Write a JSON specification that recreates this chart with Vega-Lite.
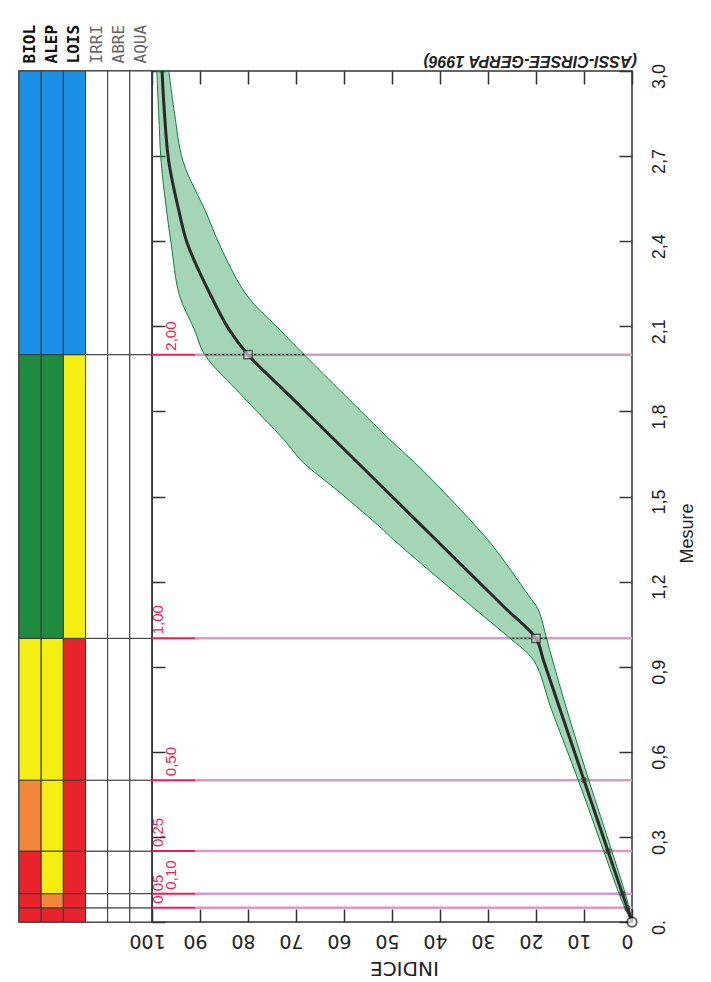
{
  "$schema": "https://vega.github.io/schema/vega-lite/v6.json",
  "background": "white",
  "padding": {"left": 17, "top": 23, "right": 5, "bottom": 2},
  "config": {"view": {"stroke": "#333", "strokeWidth": 1.5}, "font": "Liberation Sans"},
  "datasets": {
    "classes": [
      {"p": "BIOL", "de": 0, "a": 0.05, "c": "rouge"},
      {"p": "BIOL", "de": 0.05, "a": 0.1, "c": "rouge"},
      {"p": "BIOL", "de": 0.1, "a": 0.25, "c": "rouge"},
      {"p": "BIOL", "de": 0.25, "a": 0.5, "c": "orange"},
      {"p": "BIOL", "de": 0.5, "a": 1, "c": "jaune"},
      {"p": "BIOL", "de": 1, "a": 2, "c": "vert"},
      {"p": "BIOL", "de": 2, "a": 3, "c": "bleu"},
      {"p": "ALEP", "de": 0, "a": 0.05, "c": "rouge"},
      {"p": "ALEP", "de": 0.05, "a": 0.1, "c": "orange"},
      {"p": "ALEP", "de": 0.1, "a": 0.25, "c": "jaune"},
      {"p": "ALEP", "de": 0.25, "a": 0.5, "c": "jaune"},
      {"p": "ALEP", "de": 0.5, "a": 1, "c": "jaune"},
      {"p": "ALEP", "de": 1, "a": 2, "c": "vert"},
      {"p": "ALEP", "de": 2, "a": 3, "c": "bleu"},
      {"p": "LOIS", "de": 0, "a": 0.05, "c": "rouge"},
      {"p": "LOIS", "de": 0.05, "a": 0.1, "c": "rouge"},
      {"p": "LOIS", "de": 0.1, "a": 0.25, "c": "rouge"},
      {"p": "LOIS", "de": 0.25, "a": 0.5, "c": "rouge"},
      {"p": "LOIS", "de": 0.5, "a": 1, "c": "rouge"},
      {"p": "LOIS", "de": 1, "a": 2, "c": "jaune"},
      {"p": "LOIS", "de": 2, "a": 3, "c": "bleu"},
      {"p": "IRRI", "de": 0, "a": 0.05, "c": "blanc"},
      {"p": "IRRI", "de": 0.05, "a": 0.1, "c": "blanc"},
      {"p": "IRRI", "de": 0.1, "a": 0.25, "c": "blanc"},
      {"p": "IRRI", "de": 0.25, "a": 0.5, "c": "blanc"},
      {"p": "IRRI", "de": 0.5, "a": 1, "c": "blanc"},
      {"p": "IRRI", "de": 1, "a": 2, "c": "blanc"},
      {"p": "IRRI", "de": 2, "a": 3, "c": "blanc"},
      {"p": "ABRE", "de": 0, "a": 0.05, "c": "blanc"},
      {"p": "ABRE", "de": 0.05, "a": 0.1, "c": "blanc"},
      {"p": "ABRE", "de": 0.1, "a": 0.25, "c": "blanc"},
      {"p": "ABRE", "de": 0.25, "a": 0.5, "c": "blanc"},
      {"p": "ABRE", "de": 0.5, "a": 1, "c": "blanc"},
      {"p": "ABRE", "de": 1, "a": 2, "c": "blanc"},
      {"p": "ABRE", "de": 2, "a": 3, "c": "blanc"},
      {"p": "AQUA", "de": 0, "a": 0.05, "c": "blanc"},
      {"p": "AQUA", "de": 0.05, "a": 0.1, "c": "blanc"},
      {"p": "AQUA", "de": 0.1, "a": 0.25, "c": "blanc"},
      {"p": "AQUA", "de": 0.25, "a": 0.5, "c": "blanc"},
      {"p": "AQUA", "de": 0.5, "a": 1, "c": "blanc"},
      {"p": "AQUA", "de": 1, "a": 2, "c": "blanc"},
      {"p": "AQUA", "de": 2, "a": 3, "c": "blanc"}
    ],
    "courbe": [
      {"M": 0, "med": 0, "lo": 0, "hi": 0},
      {"M": 0.05, "med": 1, "lo": 0.6, "hi": 1.5},
      {"M": 0.1, "med": 2, "lo": 1.4, "hi": 2.7},
      {"M": 0.25, "med": 5, "lo": 4.2, "hi": 5.9},
      {"M": 0.5, "med": 10, "lo": 9, "hi": 11.2},
      {"M": 0.75, "med": 15, "lo": 13.6, "hi": 16.8},
      {"M": 0.92, "med": 18.4, "lo": 16.5, "hi": 20.4},
      {"M": 1, "med": 20, "lo": 17.8, "hi": 25.4},
      {"M": 1.1, "med": 26, "lo": 19.5, "hi": 32.5},
      {"M": 1.15, "med": 29, "lo": 21.5, "hi": 36},
      {"M": 1.33, "med": 39.8, "lo": 29.2, "hi": 48.5},
      {"M": 1.4, "med": 44, "lo": 32.8, "hi": 53},
      {"M": 1.53, "med": 51.8, "lo": 40, "hi": 62},
      {"M": 1.62, "med": 57.2, "lo": 45.3, "hi": 68.5},
      {"M": 1.7, "med": 62, "lo": 50.4, "hi": 72.5},
      {"M": 1.86, "med": 71.6, "lo": 60, "hi": 81.5},
      {"M": 2, "med": 80, "lo": 68.3, "hi": 89},
      {"M": 2.09, "med": 84, "lo": 73.5, "hi": 91.2},
      {"M": 2.21, "med": 87.8, "lo": 80.3, "hi": 94.3},
      {"M": 2.39, "med": 92.6, "lo": 86, "hi": 96},
      {"M": 2.5, "med": 94.3, "lo": 88.7, "hi": 96.9},
      {"M": 2.68, "med": 96.5, "lo": 93.5, "hi": 98.1},
      {"M": 2.85, "med": 97.4, "lo": 95.3, "hi": 98.6},
      {"M": 3, "med": 97.9, "lo": 96.5, "hi": 99}
    ],
    "seuils": [
      {"s": 0.05, "t": "0,05"},
      {"s": 0.1, "t": "0,10"},
      {"s": 0.25, "t": "0,25"},
      {"s": 0.5, "t": "0,50"},
      {"s": 1, "t": "1,00"},
      {"s": 2, "t": "2,00"}
    ]
  },
  "spacing": 0,
  "bounds": "flush",
  "resolve": {"scale": {"x": "independent", "y": "independent", "color": "independent"}},
  "hconcat": [
    {
      "width": 133,
      "height": 851,
      "data": {"name": "classes"},
      "mark": {"type": "rect", "stroke": "#3a3a3a", "strokeWidth": 1},
      "encoding": {
        "x": {
          "field": "p", "type": "nominal",
          "sort": ["BIOL", "ALEP", "LOIS", "IRRI", "ABRE", "AQUA"],
          "scale": {"paddingInner": 0, "paddingOuter": 0},
          "axis": {
            "orient": "top", "title": null, "ticks": false, "domain": false, "grid": false,
            "labelAngle": 270, "labelAlign": "left", "labelBaseline": "middle",
            "labelFont": "DejaVu Sans Mono", "labelFontSize": 16, "labelPadding": 8,
            "labelColor": {"condition": {"test": "indexof(['IRRI','ABRE','AQUA'], datum.value) >= 0", "value": "#666"}, "value": "#111"},
            "labelFontWeight": {"condition": {"test": "indexof(['IRRI','ABRE','AQUA'], datum.value) >= 0", "value": "normal"}, "value": "bold"}
          }
        },
        "y": {"field": "de", "type": "quantitative", "scale": {"domain": [0, 3], "nice": false, "zero": false}, "axis": null},
        "y2": {"field": "a"},
        "color": {
          "field": "c", "type": "nominal", "legend": null,
          "scale": {"domain": ["bleu", "vert", "jaune", "orange", "rouge", "blanc"], "range": ["#1c8fe6", "#1f8b3f", "#f4ee12", "#f2873a", "#e8232b", "#ffffff"]}
        }
      }
    },
    {
      "width": 480,
      "height": 851,
      "resolve": {"axis": {"x": "independent", "y": "independent"}},
      "layer": [
        {
          "data": {"name": "seuils"},
          "mark": {"type": "rule", "color": "#d99ac8", "strokeWidth": 2.5},
          "encoding": {
            "y": {"field": "s", "type": "quantitative", "axis": null},
            "x": {"datum": 91, "type": "quantitative", "axis": null},
            "x2": {"datum": 0}
          }
        },
        {
          "data": {"name": "seuils"},
          "mark": {"type": "rule", "color": "#eb1e5a", "strokeWidth": 2},
          "encoding": {
            "y": {"field": "s", "type": "quantitative", "axis": null},
            "x": {"datum": 100, "type": "quantitative", "axis": null},
            "x2": {"datum": 91}
          }
        },
        {
          "data": {"name": "courbe"},
          "mark": {"type": "area", "orient": "horizontal", "interpolate": "catmull-rom", "fill": "#35a15f", "fillOpacity": 0.45, "stroke": "#0e7f3a", "strokeWidth": 1},
          "encoding": {
            "y": {
              "field": "M", "type": "quantitative",
              "scale": {"domain": [0, 3], "nice": false, "zero": false},
              "axis": {
                "orient": "right", "values": [0, 0.3, 0.6, 0.9, 1.2, 1.5, 1.8, 2.1, 2.4, 2.7, 3.0],
                "labelExpr": "datum.value == 0 ? '0.' : replace(format(datum.value, '.1f'), '.', ',')",
                "domain": false, "grid": false, "tickSize": -13, "tickColor": "#333", "tickWidth": 1.5,
                "labelAngle": 270, "labelAlign": "center", "labelBaseline": "top",
                "labelPadding": 31, "labelOffset": 5, "labelFontSize": 18, "labelFont": "Liberation Sans",
                "labelColor": "#222", "labelFlush": false, "labelOverlap": false, "labelBound": false,
                "title": "Mesure", "titleAngle": 270, "titleFont": "Liberation Sans", "titleFontSize": 18,
                "titleFontWeight": "normal", "titleColor": "#222", "titleAlign": "center", "titleBaseline": "top",
                "titleX": 46, "titleY": 462
              }
            },
            "x": {
              "field": "lo", "type": "quantitative", "stack": null,
              "scale": {"domain": [0, 100], "reverse": true, "nice": false, "zero": false},
              "axis": {
                "orient": "bottom", "values": [0, 10, 20, 30, 40, 50, 60, 70, 80, 90, 100],
                "domain": false, "grid": false, "tickSize": -13, "tickColor": "#333", "tickWidth": 1.5,
                "labelAngle": 180, "labelAlign": "center", "labelBaseline": "middle",
                "labelPadding": 31, "labelOffset": -5, "labelFontSize": 19, "labelFont": "DejaVu Sans",
                "labelColor": "#222", "labelFlush": false, "labelOverlap": false, "labelBound": false,
                "title": "INDICE", "titleAngle": 180, "titleFont": "DejaVu Sans", "titleFontSize": 20,
                "titleFontWeight": "normal", "titleColor": "#222", "titleAlign": "center", "titleBaseline": "middle",
                "titleX": 252, "titleY": 45
              }
            },
            "x2": {"field": "hi"}
          }
        },
        {
          "data": {"name": "courbe"},
          "transform": [{"filter": "datum.M == 1 || datum.M == 2"}],
          "mark": {"type": "rule", "color": "#222", "strokeDash": [2, 2], "strokeWidth": 1.2},
          "encoding": {
            "y": {"field": "M", "type": "quantitative", "axis": null},
            "x": {"field": "lo", "type": "quantitative", "axis": null},
            "x2": {"field": "hi"}
          }
        },
        {
          "data": {"name": "courbe"},
          "mark": {"type": "line", "interpolate": "catmull-rom", "color": "#2a2a2a", "strokeWidth": 3},
          "encoding": {
            "y": {
              "field": "M", "type": "quantitative",
              "axis": {"orient": "left", "values": [0, 0.3, 0.6, 0.9, 1.2, 1.5, 1.8, 2.1, 2.4, 2.7, 3.0], "labels": false, "title": null, "domain": false, "grid": false, "tickSize": -13, "tickColor": "#333", "tickWidth": 1.5}
            },
            "x": {
              "field": "med", "type": "quantitative",
              "axis": {"orient": "top", "values": [0, 10, 20, 30, 40, 50, 60, 70, 80, 90, 100], "labels": false, "title": null, "domain": false, "grid": false, "tickSize": -13, "tickColor": "#333", "tickWidth": 1.5}
            },
            "order": {"field": "M", "type": "quantitative"}
          }
        },
        {
          "data": {"name": "courbe"},
          "transform": [{"filter": "datum.M == 0.05 || datum.M == 0.1 || datum.M == 0.25 || datum.M == 0.5"}],
          "mark": {"type": "point", "shape": "cross", "angle": 45, "size": 40, "filled": true, "color": "#333"},
          "encoding": {
            "y": {"field": "M", "type": "quantitative", "axis": null},
            "x": {"field": "med", "type": "quantitative", "axis": null}
          }
        },
        {
          "data": {"name": "courbe"},
          "transform": [{"filter": "datum.M == 1 || datum.M == 2"}],
          "mark": {"type": "point", "shape": "square", "size": 70, "filled": true, "fill": "#cfcfcf", "stroke": "#333", "strokeWidth": 1.5},
          "encoding": {
            "y": {"field": "M", "type": "quantitative", "axis": null},
            "x": {"field": "med", "type": "quantitative", "axis": null}
          }
        },
        {
          "data": {"name": "courbe"},
          "transform": [{"filter": "datum.M == 0"}],
          "mark": {"type": "point", "shape": "circle", "size": 90, "filled": true, "fill": "#ffffff", "stroke": "#222", "strokeWidth": 2},
          "encoding": {
            "y": {"field": "M", "type": "quantitative", "axis": null},
            "x": {"field": "med", "type": "quantitative", "axis": null}
          }
        },
        {
          "data": {"name": "seuils"},
          "transform": [{"filter": "datum.s == 2 || datum.s == 0.5 || datum.s == 0.1"}],
          "mark": {"type": "text", "angle": 270, "align": "left", "baseline": "middle", "dx": 4, "font": "Liberation Sans", "fontSize": 15, "color": "#eb1e5a"},
          "encoding": {
            "y": {"field": "s", "type": "quantitative", "axis": null},
            "x": {"datum": 96, "type": "quantitative", "axis": null},
            "text": {"field": "t"}
          }
        },
        {
          "data": {"name": "seuils"},
          "transform": [{"filter": "datum.s == 1 || datum.s == 0.25 || datum.s == 0.05"}],
          "mark": {"type": "text", "angle": 270, "align": "left", "baseline": "middle", "dx": 4, "font": "Liberation Sans", "fontSize": 15, "color": "#eb1e5a"},
          "encoding": {
            "y": {"field": "s", "type": "quantitative", "axis": null},
            "x": {"datum": 98.8, "type": "quantitative", "axis": null},
            "text": {"field": "t"}
          }
        },
        {
          "data": {"values": [{"t": "(ASSI-CIRSEE-GERPA 1996)"}]},
          "mark": {"type": "text", "angle": 180, "align": "left", "baseline": "top", "dx": -5, "dy": 2, "font": "Liberation Sans", "fontSize": 16, "fontStyle": "italic", "fontWeight": "bold", "color": "#222"},
          "encoding": {
            "y": {"datum": 3, "type": "quantitative", "axis": null},
            "x": {"datum": 0, "type": "quantitative", "axis": null},
            "text": {"field": "t"}
          }
        }
      ]
    }
  ]
}
